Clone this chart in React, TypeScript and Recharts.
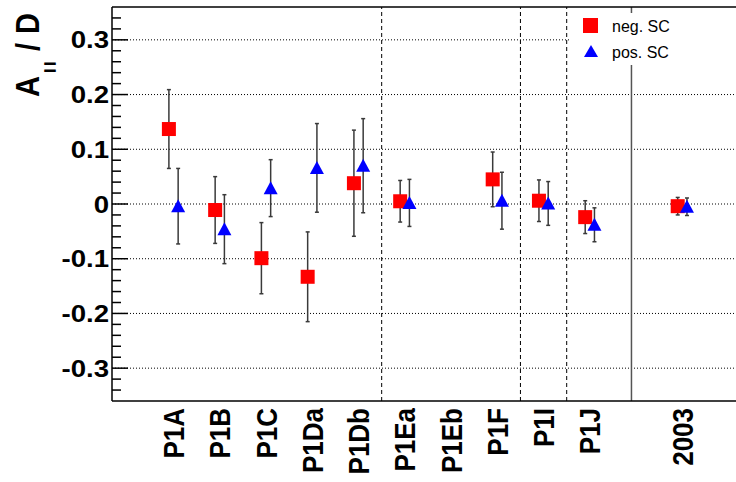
import React from 'react'
import {
  ScatterChart,
  Scatter,
  XAxis,
  YAxis,
  ErrorBar,
  ReferenceLine,
} from 'recharts'

// run periods and the 2003 combined value
const categories = ['P1A', 'P1B', 'P1C', 'P1Da', 'P1Db', 'P1Ea', 'P1Eb', 'P1F', 'P1I', 'P1J', '2003']
const positions = [1, 2, 3, 4, 5, 6, 7, 8, 9, 10, 12]

// negative spin correlation
const negValues = [0.137, -0.011, -0.099, -0.133, 0.038, 0.005, null, 0.045, 0.006, -0.024, -0.004]
const negErrors = [0.072, 0.061, 0.065, 0.082, 0.097, 0.038, null, 0.05, 0.038, 0.03, 0.016]

// positive spin correlation
const posValues = [-0.004, -0.046, 0.029, 0.066, 0.07, 0.002, null, 0.006, 0.001, -0.038, -0.005]
const posErrors = [0.069, 0.063, 0.052, 0.081, 0.086, 0.043, null, 0.052, 0.04, 0.031, 0.016]

const majorTicks = [-0.3, -0.2, -0.1, 0, 0.1, 0.2, 0.3]
const minorTicks = [
  -0.34, -0.32, -0.28, -0.26, -0.24, -0.22, -0.18, -0.16, -0.14, -0.12, -0.08, -0.06, -0.04,
  -0.02, 0.02, 0.04, 0.06, 0.08, 0.12, 0.14, 0.16, 0.18, 0.22, 0.24, 0.26, 0.28, 0.32, 0.34,
]
const dashedDividers = [5.5, 8.5, 9.5]
const solidDivider = 10.9

const X_MIN = -0.33
const X_MAX = 13.16
const FONT = '"Liberation Sans", Arial, Helvetica, sans-serif'

const toPoints = (vals: (number | null)[], errs: (number | null)[], shift: number) =>
  positions
    .map((p, i) => ({ x: p + shift, y: vals[i], err: errs[i] }))
    .filter((d) => d.y !== null)

const negData = toPoints(negValues, negErrors, -0.1)
const posData = toPoints(posValues, posErrors, 0.1)
const majorTickData = majorTicks.map((y) => ({ x: X_MIN, y }))
const minorTickData = minorTicks.map((y) => ({ x: X_MIN, y }))

const YTick = (props: any) => {
  const { y, payload } = props
  const v = payload.value
  return (
    <text
      transform={`translate(109, ${y + 8.5}) scale(1.2, 1)`}
      textAnchor="end"
      fontFamily={FONT}
      fontWeight="bold"
      fontSize={23}
      fill="#000"
    >
      {v === 0 ? '0' : v.toFixed(1)}
    </text>
  )
}

const XTick = (props: any) => {
  const { x, payload } = props
  const idx = positions.indexOf(payload.value)
  if (idx < 0) return null
  return (
    <text
      transform={`translate(${x + 10.5}, 408) scale(1.15, 1) rotate(-90)`}
      textAnchor="end"
      fontFamily={FONT}
      fontWeight="bold"
      fontSize={26}
      fill="#000"
    >
      {categories[idx]}
    </text>
  )
}

const square = (p: any) => (
  <rect x={p.cx - 7} y={p.cy - 7} width={14} height={14} fill="#ff0000" />
)

const triangle = (p: any) => (
  <polygon
    points={`${p.cx - 7},${p.cy + 6} ${p.cx + 7},${p.cy + 6} ${p.cx},${p.cy - 7}`}
    fill="#0000ff"
  />
)

// inward tick marks on the left frame
const tickMark = (len: number) => (p: any) => (
  <line x1={p.cx} x2={p.cx + len} y1={p.cy} y2={p.cy} stroke="#000" strokeWidth={1.5} />
)

export default function App() {
  return (
    <div style={{ position: 'absolute', left: 0, top: 0, width: 736, height: 482, background: '#fff' }}>
      <ScatterChart width={736} height={482} margin={{ top: 7, right: 0, bottom: 0, left: 0 }}>
        <XAxis
          type="number"
          dataKey="x"
          domain={[X_MIN, X_MAX]}
          ticks={positions}
          interval={0}
          height={81}
          tickLine={false}
          axisLine={{ stroke: '#000', strokeWidth: 1.5 }}
          tick={<XTick />}
          allowDataOverflow
        />
        <YAxis
          type="number"
          dataKey="y"
          domain={[-0.36, 0.36]}
          ticks={majorTicks}
          interval={0}
          width={112}
          tickLine={false}
          axisLine={{ stroke: '#000', strokeWidth: 1.5 }}
          tick={<YTick />}
          allowDataOverflow
        />
        {majorTicks.map((v) => (
          <ReferenceLine key={`g${v}`} y={v} stroke="#000" strokeWidth={1} strokeDasharray="1 2" />
        ))}
        {dashedDividers.map((v) => (
          <ReferenceLine key={`d${v}`} x={v} stroke="#000" strokeWidth={1} strokeDasharray="4 3" />
        ))}
        <ReferenceLine x={solidDivider} stroke="#555" strokeWidth={1.5} />
        <ReferenceLine y={0.36} stroke="#000" strokeWidth={1.5} />
        <Scatter data={majorTickData} shape={tickMark(16)} isAnimationActive={false} />
        <Scatter data={minorTickData} shape={tickMark(9)} isAnimationActive={false} />
        <Scatter data={negData} shape={square} isAnimationActive={false}>
          <ErrorBar dataKey="err" direction="y" width={2} stroke="#3a3a3a" strokeWidth={1.5} />
        </Scatter>
        <Scatter data={posData} shape={triangle} isAnimationActive={false}>
          <ErrorBar dataKey="err" direction="y" width={2} stroke="#3a3a3a" strokeWidth={1.5} />
        </Scatter>
      </ScatterChart>
      <svg
        width={736}
        height={482}
        style={{ position: 'absolute', left: 0, top: 0, pointerEvents: 'none' }}
      >
        <text
          transform="translate(38.5, 97) scale(1.17, 1) rotate(-90)"
          textAnchor="start"
          fontFamily={FONT}
          fontWeight="bold"
          fontSize={29}
          fill="#000"
        >
          A
          <tspan dx={4} dy={12} fontSize={9} letterSpacing={4.5} stroke="#000" strokeWidth={1.3}>
            ||
          </tspan>
          <tspan dx={7} dy={-12}>/</tspan>
          <tspan dx={9}>D</tspan>
        </text>
        <rect x={570} y={13} width={166} height={52} fill="#fff" />
        <rect x={583} y={18} width={15} height={15} fill="#ff0000" />
        <text x={612} y={31.5} fontFamily={FONT} fontSize={16} fill="#000">
          neg. SC
        </text>
        <polygon points="584,57 598,57 591,45" fill="#0000ff" />
        <text x={612} y={57.5} fontFamily={FONT} fontSize={16} fill="#000">
          pos. SC
        </text>
      </svg>
    </div>
  )
}
